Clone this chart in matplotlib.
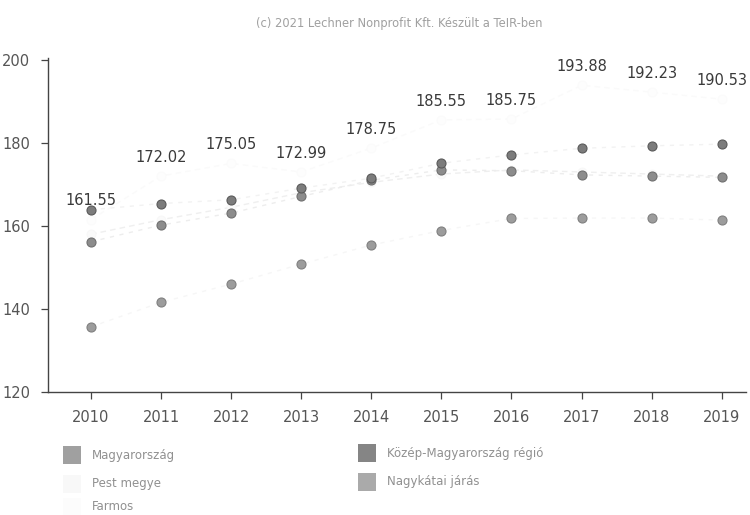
import matplotlib
matplotlib.use("Agg")
import matplotlib.pyplot as plt
from matplotlib.patches import Rectangle

years = [2010, 2011, 2012, 2013, 2014, 2015, 2016, 2017, 2018, 2019]
kozep_mo = [163.9, 165.4, 166.3, 169.1, 171.5, 175.1, 177.1, 178.7, 179.3, 179.7]
magyarorszag = [156.2, 160.2, 163.1, 167.1, 171.0, 173.5, 173.3, 172.3, 172.0, 171.7]
pest_megye = [158.0, 161.5, 164.5, 168.0, 170.5, 172.5, 173.5, 173.0, 172.5, 172.0]
nagykatai = [135.7, 141.6, 146.0, 150.8, 155.4, 158.9, 161.8, 161.9, 161.9, 161.4]
farmos = [161.55, 172.02, 175.05, 172.99, 178.75, 185.55, 185.75, 193.88, 192.23, 190.53]
yticks = [120, 140, 160, 180, 200]
title = "(c) 2021 Lechner Nonprofit Kft. Készült a TeIR-ben"
legend_names = ["Magyarország", "Pest megye", "Farmos", "Közép-Magyarország régió", "Nagykátai járás"]

fig = plt.figure(figsize=(7.5, 5.15), dpi=100)
ax = fig.add_axes([0.064, 0.2388, 0.93, 0.649])

# faint connecting lines
ax.plot(years, pest_megye, color="#efefef", lw=1.0, ls=(0, (4, 3)), zorder=1)
ax.plot(years, farmos, color="#fafafa", lw=1.0, ls=(0, (4, 3)), zorder=1)
ax.plot(years, magyarorszag, color="#ededed", lw=1.0, ls=(0, (3, 4)), zorder=1)
ax.plot(years, kozep_mo, color="#f2f2f2", lw=1.0, ls=(0, (3, 4)), zorder=1)
ax.plot(years, nagykatai, color="#f6f6f6", lw=1.0, ls=(0, (3, 4)), zorder=1)

ms = 6.5
ax.plot(years, magyarorszag, ls="none", marker="o", ms=ms, mfc="#8c8c8c", mec="#707070", mew=0.8, zorder=3)
ax.plot(years, kozep_mo, ls="none", marker="o", ms=ms, mfc="#7c7c7c", mec="#5a5a5a", mew=0.8, zorder=3)
ax.plot(years, nagykatai, ls="none", marker="o", ms=ms, mfc="#9c9c9c", mec="#808080", mew=0.8, zorder=3)
ax.plot(years, pest_megye, ls="none", marker="o", ms=ms, mfc="#fafafa", mec="#f6f6f6", mew=0.5, zorder=2)
ax.plot(years, farmos, ls="none", marker="o", ms=ms, mfc="#fdfdfd", mec="#fafafa", mew=0.5, zorder=2)

for x, v in zip(years, farmos):
    ax.annotate(f"{v:.2f}", (x, v), xytext=(0, 8), textcoords="offset points",
                ha="center", va="bottom", fontsize=10.5, color="#3a3a3a", zorder=4)

ax.set_xlim(2009.386, 2019.34)
ax.set_ylim(120, 200.5)
ax.set_xticks(years)
ax.set_xticklabels([str(y) for y in years])
ax.set_yticks(yticks)
for s in ["top", "right"]:
    ax.spines[s].set_visible(False)
for s in ["left", "bottom"]:
    ax.spines[s].set_color("#444444")
    ax.spines[s].set_linewidth(1.0)
ax.tick_params(axis="both", colors="#444444", labelcolor="#555555", labelsize=10.5, length=5, width=0.9)
ax.tick_params(axis="y", pad=8)
ax.tick_params(axis="x", pad=8)

fig.text(0.533, 1 - 23 / 515, title, ha="center", va="center", fontsize=8.3, color="#a0a0a0")

# legend
leg_items = [
    (legend_names[0], 63, 455, "#a0a0a0"),
    (legend_names[1], 63, 484, "#f8f8f8"),
    (legend_names[2], 63, 507, "#fcfcfc"),
    (legend_names[3], 358, 453, "#858585"),
    (legend_names[4], 358, 482, "#aaaaaa"),
]
W, H = 750.0, 515.0
for name, px, py, col in leg_items:
    fig.add_artist(Rectangle((px / W, (H - py - 9) / H), 18 / W, 18 / H,
                             transform=fig.transFigure, facecolor=col, edgecolor="none"))
    fig.text((px + 29) / W, (H - py) / H, name, ha="left", va="center", fontsize=8.5, color="#909090")

fig.savefig("out.png", dpi=100)
